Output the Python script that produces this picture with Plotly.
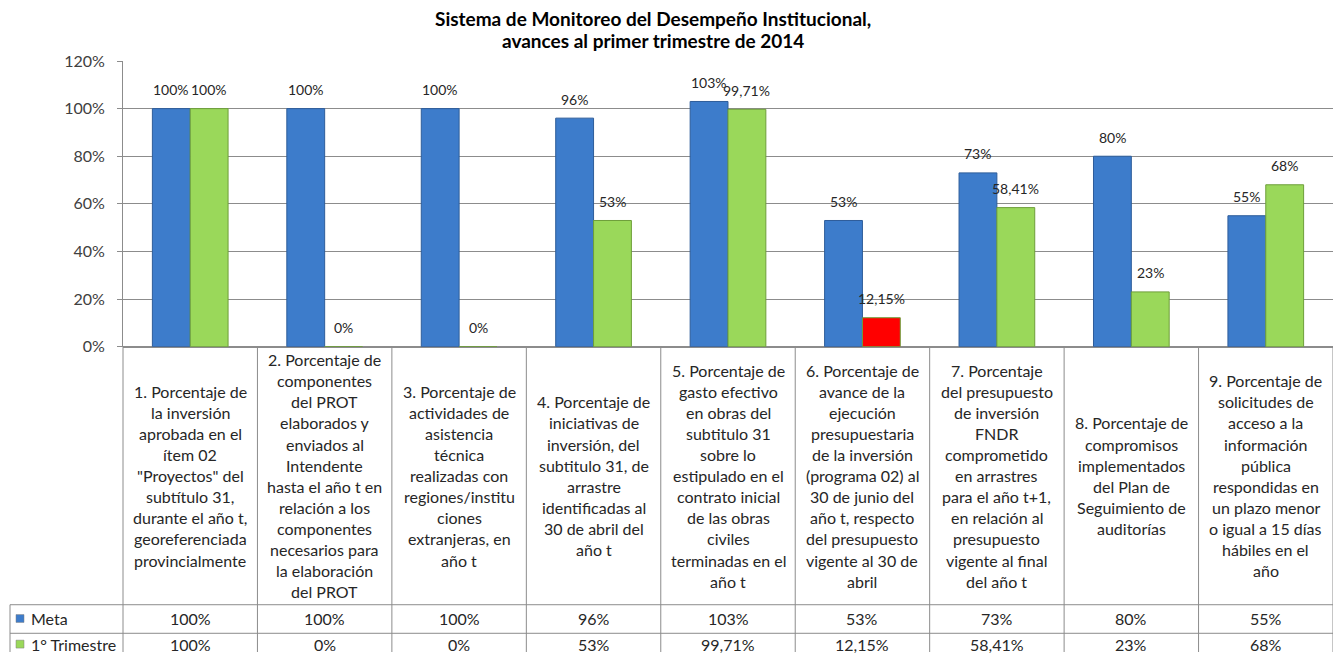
import plotly.graph_objects as go

# data
categorias = [
    ["1. Porcentaje de", "la inversión", "aprobada en el", "ítem 02", "\"Proyectos\" del",
     "subtítulo 31,", "durante el año t,", "georeferenciada", "provincialmente"],
    ["2. Porcentaje de", "componentes", "del PROT", "elaborados y", "enviados al", "Intendente",
     "hasta el año t en", "relación a los", "componentes", "necesarios para", "la elaboración", "del PROT"],
    ["3. Porcentaje de", "actividades de", "asistencia", "técnica", "realizadas con",
     "regiones/institu", "ciones", "extranjeras, en", "año t"],
    ["4. Porcentaje de", "iniciativas de", "inversión, del", "subtitulo 31, de", "arrastre",
     "identificadas al", "30 de abril del", "año t"],
    ["5. Porcentaje de", "gasto efectivo", "en obras del", "subtitulo 31", "sobre lo",
     "estipulado en el", "contrato inicial", "de las obras", "civiles", "terminadas en el", "año t"],
    ["6. Porcentaje de", "avance de la", "ejecución", "presupuestaria", "de la inversión",
     "(programa 02) al", "30 de junio del", "año t, respecto", "del presupuesto",
     "vigente al 30 de", "abril"],
    ["7. Porcentaje", "del presupuesto", "de inversión", "FNDR", "comprometido", "en arrastres",
     "para el año t+1,", "en relación al", "presupuesto", "vigente al final", "del año t"],
    ["8. Porcentaje de", "compromisos", "implementados", "del Plan de", "Seguimiento de", "auditorías"],
    ["9. Porcentaje de", "solicitudes de", "acceso a la", "información", "pública",
     "respondidas en", "un plazo menor", "o igual a 15 días", "hábiles en el", "año"],
]
cat_ids = ["c1", "c2", "c3", "c4", "c5", "c6", "c7", "c8", "c9"]
meta = [1.00, 1.00, 1.00, 0.96, 1.03, 0.53, 0.73, 0.80, 0.55]
meta_txt = ["100%", "100%", "100%", "96%", "103%", "53%", "73%", "80%", "55%"]
trimestre = [1.00, 0.0, 0.0, 0.53, 0.9971, 0.1215, 0.5841, 0.23, 0.68]
trim_txt = ["100%", "0%", "0%", "53%", "99,71%", "12,15%", "58,41%", "23%", "68%"]
trim_colores = ["#9AD85A"] * 5 + ["#FF0000"] + ["#9AD85A"] * 3
series = ["Meta", "1° Trimestre"]
yticks = [0, 0.2, 0.4, 0.6, 0.8, 1.0, 1.2]
ytick_txt = ["0%", "20%", "40%", "60%", "80%", "100%", "120%"]

# page body has an 8px margin, so the figure is drawn 8px in from the corner
OFF = 8
W, H = 1325, 653
ML, MR, MT, MB = 123 - OFF, 0, 61 - OFF, 0
FONT = "Lato"
GRID = "#8C8C8C"
TXT = "#262626"
BLUE = "#3D7CCB"
GREEN = "#9AD85A"


def px_x(px):
    # screen pixel -> paper x
    return (px - OFF - ML) / (W - ML - MR)


def px_y(py):
    # screen pixel -> paper y
    return (H - MB - (py - OFF)) / (H - MT - MB)


fig = go.Figure()
fig.add_trace(go.Bar(
    x=cat_ids, y=meta, name=series[0],
    marker=dict(color=BLUE, line=dict(color="#2E5D9A", width=1)),
))
fig.add_trace(go.Bar(
    x=cat_ids, y=trimestre, name=series[1],
    marker=dict(color=trim_colores, line=dict(color="#6E9E3A", width=1)),
))

n = len(cat_ids)
bar_w = (W - ML - MR) / n * (1 - 0.437) / 2

annotations = []
# labels above bars (x given as category index)
for i, (v, t) in enumerate(zip(meta, meta_txt)):
    annotations.append(dict(x=i, y=v, xref="x", yref="y", text=t, showarrow=False,
                            xanchor="center", yanchor="middle",
                            xshift=-bar_w / 2, yshift=19,
                            font=dict(size=14, color=TXT, family=FONT)))
for i, (v, t) in enumerate(zip(trimestre, trim_txt)):
    annotations.append(dict(x=i, y=v, xref="x", yref="y", text=t, showarrow=False,
                            xanchor="center", yanchor="middle",
                            xshift=bar_w / 2, yshift=19,
                            font=dict(size=14, color=TXT, family=FONT)))

# title
for i, line in enumerate(["Sistema de Monitoreo del Desempeño Institucional,",
                          "avances al primer trimestre de 2014"]):
    annotations.append(dict(x=px_x(653), y=px_y(18 + 22 * i), xref="paper", yref="paper",
                            text="<b>%s</b>" % line, showarrow=False,
                            xanchor="center", yanchor="middle",
                            font=dict(size=19, color="#000000", family=FONT)))

# data table
y0 = px_y(351)
y_head = px_y(613)
y_mid = px_y(642)
x_left = px_x(10)
shapes = []
line_st = dict(color=GRID, width=1)
for i in range(n + 1):
    shapes.append(dict(type="line", xref="paper", yref="paper", x0=i / n, x1=i / n,
                       y0=y0, y1=0, line=line_st))
shapes.append(dict(type="line", xref="paper", yref="paper", x0=x_left, x1=x_left,
                   y0=y_head, y1=0, line=line_st))
for yy in (y_head, y_mid):
    shapes.append(dict(type="line", xref="paper", yref="paper", x0=x_left, x1=1,
                       y0=yy, y1=yy, line=line_st))

line_h = 21.4
for i, lines in enumerate(categorias):
    cx = (i + 0.5) / n
    top = 482 - line_h * (len(lines) - 1) / 2
    for k, ln in enumerate(lines):
        annotations.append(dict(x=cx, y=px_y(top + k * line_h), xref="paper", yref="paper",
                                text=ln, showarrow=False, xanchor="center", yanchor="middle",
                                font=dict(size=16, color=TXT, family=FONT)))

rows = [(meta_txt, 627, BLUE, series[0]), (trim_txt, 653, GREEN, series[1])]
for vals, py, col, name in rows:
    for i, t in enumerate(vals):
        annotations.append(dict(x=(i + 0.5) / n, y=px_y(py), xref="paper", yref="paper",
                                text=t, showarrow=False, xanchor="center", yanchor="middle",
                                font=dict(size=16, color=TXT, family=FONT)))
    shapes.append(dict(type="rect", xref="paper", yref="paper",
                       x0=px_x(16), x1=px_x(24), y0=px_y(py - 4), y1=px_y(py + 4),
                       fillcolor=col, line=dict(color="#7F7F7F", width=0.5)))
    annotations.append(dict(x=px_x(29), y=px_y(py), xref="paper", yref="paper", text=name,
                            showarrow=False, xanchor="left", yanchor="middle",
                            font=dict(size=16, color=TXT, family=FONT)))

fig.update_layout(
    width=W, height=H,
    margin=dict(l=ML, r=MR, t=MT, b=MB),
    paper_bgcolor="white", plot_bgcolor="white",
    barmode="group", bargap=0.437, bargroupgap=0,
    showlegend=False,
    font=dict(family=FONT, color=TXT),
    xaxis=dict(type="category", showticklabels=False, showgrid=False, showline=False,
               zeroline=False, range=[-0.5, n - 0.5]),
    yaxis=dict(domain=[px_y(351), 1], range=[0, 1.2], tickvals=yticks, ticktext=ytick_txt,
               showgrid=True, gridcolor=GRID, gridwidth=1, zeroline=True,
               zerolinecolor=GRID, showline=True, linecolor=GRID, linewidth=1,
               ticks="outside", ticklen=5, tickcolor=GRID,
               ticklabelstandoff=9, tickfont=dict(size=16, color="#404040", family=FONT)),
    annotations=annotations, shapes=shapes,
)

fig.write_html("out.html")
